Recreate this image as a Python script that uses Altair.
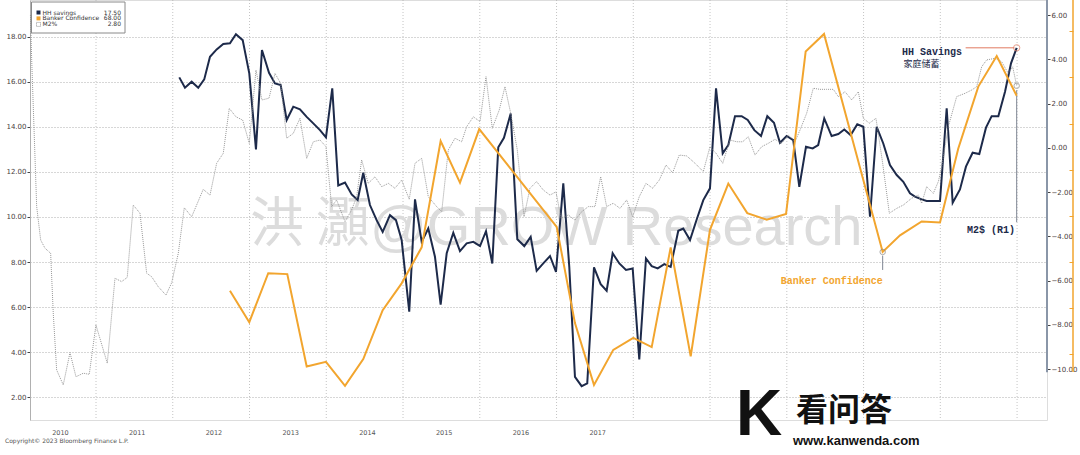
import altair as alt
import pandas as pd

# ---------------- data ----------------
hh_year = [2012.085, 2012.159, 2012.246, 2012.332, 2012.410, 2012.485, 2012.572, 2012.658, 2012.745, 2012.823,
           2012.911, 2012.997, 2013.084, 2013.162, 2013.254, 2013.332, 2013.406, 2013.484, 2013.570, 2013.657,
           2013.745, 2013.831, 2013.918, 2013.996, 2014.078, 2014.156, 2014.244, 2014.331, 2014.409, 2014.482,
           2014.569, 2014.656, 2014.735, 2014.830, 2014.908, 2014.982, 2015.081, 2015.156, 2015.243, 2015.329,
           2015.416, 2015.490, 2015.569, 2015.655, 2015.742, 2015.829, 2015.916, 2016.003, 2016.081, 2016.163,
           2016.241, 2016.315, 2016.403, 2016.489, 2016.580, 2016.663, 2016.741, 2016.827, 2016.915, 2016.993,
           2017.088, 2017.166, 2017.240, 2017.327, 2017.400, 2017.488, 2017.575, 2017.653, 2017.731, 2017.818,
           2017.905, 2017.992, 2018.078, 2018.165, 2018.240, 2018.318, 2018.404, 2018.487, 2018.586, 2018.651,
           2018.739, 2018.826, 2018.912, 2018.999, 2019.078, 2019.165, 2019.238, 2019.325, 2019.412, 2019.491,
           2019.577, 2019.664, 2019.746, 2019.833, 2019.911, 2019.998, 2020.084, 2020.163, 2020.250, 2020.337,
           2020.409, 2020.488, 2020.584, 2020.671, 2020.749, 2020.832, 2020.918, 2020.997, 2021.084, 2021.171,
           2021.257, 2021.344, 2021.432, 2021.518, 2021.605, 2021.670, 2021.757, 2021.822, 2021.909, 2021.996,
           2022.083, 2022.161, 2022.256, 2022.334, 2022.421, 2022.508, 2022.595, 2022.669, 2022.756, 2022.843,
           2022.921, 2022.995]
hh_val = [16.19, 15.73, 16.00, 15.73, 16.10, 17.10, 17.43, 17.67, 17.70, 18.10,
          17.84, 16.37, 13.00, 17.40, 16.39, 15.92, 15.85, 14.30, 14.89, 14.77,
          14.44, 14.15, 13.85, 13.53, 15.70, 11.40, 11.53, 11.00, 10.75, 11.96,
          10.53, 9.86, 9.34, 10.08, 9.86, 8.98, 5.80, 10.78, 8.90, 9.49,
          8.24, 6.12, 8.39, 9.30, 8.49, 8.83, 8.90, 8.71, 9.37, 7.94,
          13.09, 13.51, 14.59, 9.01, 8.71, 9.12, 7.61, 7.94, 8.27, 7.57,
          11.49, 7.79, 2.91, 2.50, 2.62, 7.77, 7.02, 6.73, 8.39, 7.94,
          7.65, 7.72, 3.69, 8.16, 7.82, 7.72, 7.91, 7.79, 9.39, 9.49,
          8.98, 9.89, 10.75, 11.27, 15.70, 12.82, 13.19, 14.47, 14.47, 14.30,
          13.85, 13.59, 14.47, 14.18, 13.29, 13.59, 13.41, 11.34, 13.11, 13.04,
          13.19, 14.37, 13.59, 13.68, 13.88, 13.63, 14.11, 14.00, 10.01, 14.00,
          13.26, 12.30, 11.86, 11.56, 11.05, 10.90, 10.78, 10.71, 10.71, 10.71,
          14.82, 10.63, 11.22, 12.23, 12.85, 12.79, 13.96, 14.47, 14.47, 15.55,
          16.81, 17.50]

m2_year = [2010.146, 2010.162, 2010.227, 2010.279, 2010.335, 2010.409, 2010.443, 2010.487, 2010.573, 2010.661,
           2010.739, 2010.834, 2010.912, 2010.999, 2011.147, 2011.247, 2011.334, 2011.407, 2011.485, 2011.573,
           2011.660, 2011.725, 2011.811, 2011.911, 2011.986, 2012.072, 2012.150, 2012.246, 2012.311, 2012.397,
           2012.485, 2012.572, 2012.658, 2012.736, 2012.823, 2012.911, 2012.997, 2013.084, 2013.162, 2013.254,
           2013.332, 2013.406, 2013.484, 2013.570, 2013.657, 2013.745, 2013.831, 2013.918, 2013.996, 2014.070,
           2014.135, 2014.244, 2014.331, 2014.396, 2014.461, 2014.547, 2014.635, 2014.722, 2014.808, 2014.895,
           2014.982, 2015.081, 2015.156, 2015.243, 2015.329, 2015.438, 2015.504, 2015.590, 2015.677, 2015.764,
           2015.829, 2015.916, 2016.003, 2016.081, 2016.163, 2016.254, 2016.328, 2016.403, 2016.489, 2016.576,
           2016.654, 2016.741, 2016.827, 2016.915, 2016.993, 2017.058, 2017.153, 2017.240, 2017.328, 2017.414,
           2017.501, 2017.575, 2017.653, 2017.739, 2017.827, 2017.914, 2017.992, 2018.078, 2018.165, 2018.253,
           2018.339, 2018.426, 2018.513, 2018.599, 2018.696, 2018.804, 2018.912, 2018.999, 2019.078, 2019.165,
           2019.260, 2019.347, 2019.425, 2019.498, 2019.586, 2019.673, 2019.759, 2019.846, 2019.933, 2020.020,
           2020.107, 2020.172, 2020.259, 2020.345, 2020.432, 2020.519, 2020.606, 2020.671, 2020.759, 2020.846,
           2020.932, 2020.997, 2021.075, 2021.162, 2021.249, 2021.336, 2021.432, 2021.518, 2021.627, 2021.713,
           2021.757, 2021.822, 2021.909, 2021.974, 2022.018, 2022.104, 2022.213, 2022.322, 2022.409, 2022.474,
           2022.539, 2022.604, 2022.712, 2022.799, 2022.885, 2022.943, 2022.995]
m2_val = [6.00, 3.97, -2.66, -4.17, -4.54, -4.77, -7.47, -10.04, -10.72, -9.26,
          -10.35, -10.19, -10.24, -8.01, -9.74, -5.90, -6.05, -5.86, -2.59, -2.96,
          -5.67, -5.83, -6.28, -6.66, -6.10, -4.77, -2.71, -3.12, -2.59, -1.88,
          -2.14, -0.70, -0.25, 1.78, 1.40, 1.25, 0.20, 3.51, 2.16, 2.24,
          3.36, 2.91, 0.43, 0.65, 1.33, -0.48, 0.27, 0.35, 0.05, -2.66,
          -2.36, -3.34, -2.81, -2.21, -0.55, -1.61, -1.31, -1.76, -1.61, -1.83,
          -1.46, -2.33, -0.70, -0.48, -2.21, -2.66, -2.89, -0.10, 0.43, 0.27,
          0.95, 1.40, 1.18, 3.21, 0.88, 1.71, 2.76, 1.56, -0.10, -3.12,
          -1.83, -1.53, -1.91, -2.14, -1.99, -3.19, -3.04, -3.27, -2.89, -2.66,
          -2.66, -1.31, -2.66, -2.51, -2.74, -2.36, -3.12, -2.21, -1.61, -1.83,
          -1.46, -0.78, -1.13, -0.33, -0.37, -0.70, -1.08, 0.05, -0.25, -0.70,
          0.35, 0.27, 0.27, 0.50, -0.33, 0.05, 0.20, 0.38, 0.20, 0.58,
          0.27, 0.80, 1.56, 2.69, 2.64, 2.64, 2.64, 2.31, 2.53, 2.16,
          2.53, 1.33, 1.11, 1.33, -0.70, -2.96, -2.74, -2.59, -2.28, -2.14,
          -2.51, -1.76, -2.06, -1.53, -0.86, 0.95, 2.31, 2.46, 2.61, 2.76,
          3.66, 3.97, 4.04, 3.89, 3.36, 3.66, 2.80]

bc_year = [2012.745, 2012.997, 2013.244, 2013.492, 2013.745, 2013.996, 2014.244, 2014.482, 2014.735, 2014.982,
           2015.243, 2015.490, 2015.742, 2015.993, 2017.002, 2017.240, 2017.488, 2017.739, 2018.000, 2018.240,
           2018.487, 2018.748, 2018.999, 2019.238, 2019.485, 2019.738, 2019.990, 2020.246, 2020.485, 2021.249,
           2021.475, 2021.757, 2021.996, 2022.234, 2022.495, 2022.735, 2022.995]
bc_val = [46.9, 43.5, 48.8, 48.7, 38.7, 39.2, 36.6, 39.5, 44.8, 47.7,
          51.6, 63.1, 58.6, 64.4, 53.8, 43.4, 36.7, 40.5, 41.8, 40.8,
          51.6, 39.8, 53.5, 58.5, 55.3, 54.6, 55.2, 72.8, 74.7, 51.1,
          52.9, 54.4, 54.3, 62.3, 69.0, 72.3, 68.0]

grid_years = list(range(2011, 2024))
label_years = list(range(2010, 2018))
left_ticks = [2, 4, 6, 8, 10, 12, 14, 16, 18]
right_ticks = [-10, -8, -6, -4, -2, 0, 2, 4, 6]
bc_ticks = [40, 45, 50, 55, 60, 65, 70, 75]

legend_names = ["HH savings", "Banker Confidence", "M2%"]
legend_values = ["17.50", "68.00", "2.80"]

# ---------------- styles ----------------
W, H = 1017, 420
NAVY = "#1d2a4a"
ORANGE = "#f2a52e"
GREY = "#8c8c8c"
SALMON = "#e07a60"
FONT = "DejaVu Sans"
MONO = "Liberation Mono"
CJK = "Noto Sans CJK SC"

M2_TOP, M2_BOT = 6.678, -12.305
BC_TOP, BC_BOT = 78.37, 32.91

xs = alt.Scale(domain=[2010.14, 2023.39], nice=False, zero=False)
x_axis = alt.Axis(values=[y + 0.53 for y in label_years], labelExpr="'' + floor(datum.value)",
                  grid=False, ticks=False, domain=False, labelFontSize=6.5, labelColor="#555555",
                  labelPadding=9, title=None, labelFont=FONT)
X = alt.X("year:Q", scale=xs, axis=x_axis)

# vertical dotted grid lines
grid_df = pd.DataFrame({"year": grid_years})
vgrid = alt.Chart(grid_df).mark_rule(color="#b5b5b5", strokeDash=[1, 2], strokeWidth=0.8).encode(x=X)

# watermark
wm1 = alt.Chart(pd.DataFrame({"t": ["洪 灝"]})).mark_text(
    font=CJK, fontSize=54, color="#dcdcdc", align="right", baseline="middle"
).encode(x=alt.value(340), y=alt.value(226), text="t:N")
wm2 = alt.Chart(pd.DataFrame({"t": ["@GROW Research"]})).mark_text(
    font="Liberation Sans", fontSize=56, color="#dcdcdc", align="left", baseline="middle"
).encode(x=alt.value(340), y=alt.value(228), text="t:N")

# ---- HH savings (left axis) ----
hh_df = pd.DataFrame({"year": hh_year, "val": hh_val})
sc_hh = alt.Scale(domain=[1.0, 19.62], nice=False, zero=False)
ax_hh = alt.Axis(orient="left", values=left_ticks, format=".2f", grid=True, gridDash=[1, 2],
                 gridColor="#9a9a9a", gridWidth=0.8, tickSize=3, tickColor="#444444",
                 domainColor="#b0b0b0", labelFontSize=7, labelColor="#4a4040", labelFont=FONT,
                 labelPadding=1, title=None)
Y_hh = alt.Y("val:Q", scale=sc_hh, axis=ax_hh)
hh_line = alt.Chart(hh_df).mark_line(color=NAVY, strokeWidth=2).encode(x=X, y=Y_hh)
hh_last = alt.Chart(hh_df.tail(1)).mark_point(shape="circle", size=40, color=SALMON, filled=False,
                                                strokeWidth=1).encode(x=X, y=Y_hh)
hh_lead_df = pd.DataFrame({"year": [2022.33], "year2": [hh_year[-1] - 0.03], "val": [hh_val[-1]]})
hh_lead = alt.Chart(hh_lead_df).mark_rule(color=SALMON, strokeWidth=1).encode(x=X, x2="year2:Q", y=Y_hh)
hh_t1 = alt.Chart(pd.DataFrame({"year": [2021.50], "val": [17.33], "t": ["HH Savings"]})).mark_text(
    font=MONO, fontWeight="bold", fontSize=10, color=NAVY, align="left", baseline="middle"
).encode(x=X, y=Y_hh, text="t:N")
hh_t2 = alt.Chart(pd.DataFrame({"year": [2021.52], "val": [16.80], "t": ["家庭储蓄"]})).mark_text(
    font=CJK, fontSize=9, color=NAVY, align="left", baseline="middle"
).encode(x=X, y=Y_hh, text="t:N")
hh_layer = alt.layer(hh_line, hh_lead, hh_last, hh_t1, hh_t2)

# ---- M2% (right axis R1) ----
m2_df = pd.DataFrame({"year": m2_year, "val": m2_val})
sc_m2 = alt.Scale(domain=[M2_BOT, M2_TOP], nice=False, zero=False)
ax_m2 = alt.Axis(orient="right", values=right_ticks, format=".2f", grid=False, tickSize=3,
                 tickColor="#444444", domain=False, labelFontSize=7,
                 labelColor="#4a4040", labelFont=FONT, labelPadding=1, title=None)
Y_m2 = alt.Y("val:Q", scale=sc_m2, axis=ax_m2)
m2_line = alt.Chart(m2_df).mark_line(color=GREY, strokeWidth=0.9, strokeDash=[1, 1]).encode(x=X, y=Y_m2)
# right axis line (ends a little below the -10 tick, as in the source)
m2_axisline = alt.Chart(pd.DataFrame({"val": [-10.15], "val2": [M2_TOP]})).mark_rule(
    color="#8a96a8", strokeWidth=2).encode(x=alt.value(W), y=Y_m2, y2="val2:Q")
m2_lead_df = pd.DataFrame({"year": [m2_year[-1]], "val": [m2_val[-1] - 0.2], "val2": [-3.36]})
m2_lead = alt.Chart(m2_lead_df).mark_rule(color="#7f8794", strokeWidth=1).encode(x=X, y=Y_m2, y2="val2:Q")
m2_last = alt.Chart(m2_df.tail(1)).mark_point(shape="circle", size=30, color="#8a8a8a", filled=False,
                                                strokeWidth=1).encode(x=X, y=Y_m2)
m2_t = alt.Chart(pd.DataFrame({"year": [2022.973], "val": [-3.72], "t": ["M2$ (R1)"]})).mark_text(
    font=MONO, fontWeight="bold", fontSize=10, color=NAVY, align="right", baseline="middle"
).encode(x=X, y=Y_m2, text="t:N")
m2_layer = alt.layer(m2_line, m2_axisline, m2_lead, m2_last, m2_t)

# ---- Banker Confidence (third axis) ----
bc_df = pd.DataFrame({"year": bc_year, "val": bc_val})
sc_bc = alt.Scale(domain=[BC_BOT, BC_TOP], nice=False, zero=False)
ax_bc = alt.Axis(orient="left", offset=-1043, values=bc_ticks, labels=False, grid=False, tickSize=4,
                 tickColor=ORANGE, domain=False, title=None)
Y_bc = alt.Y("val:Q", scale=sc_bc, axis=ax_bc)
bc_line = alt.Chart(bc_df).mark_line(color=ORANGE, strokeWidth=2).encode(x=X, y=Y_bc)
bc_axisline = alt.Chart(pd.DataFrame({"val": [38.1], "val2": [BC_TOP]})).mark_rule(
    color=ORANGE, strokeWidth=1.5).encode(x=alt.value(W + 26), y=Y_bc, y2="val2:Q")
bc_min_df = bc_df.iloc[[29]]
bc_pt = alt.Chart(bc_min_df).mark_point(shape="circle", size=30, color="#8a8a8a", filled=False,
                                         strokeWidth=1).encode(x=X, y=Y_bc)
bc_lead_df = pd.DataFrame({"year": [bc_year[29]], "val": [bc_val[29] - 0.4], "val2": [49.15]})
bc_lead = alt.Chart(bc_lead_df).mark_rule(color="#7f8794", strokeWidth=1).encode(x=X, y=Y_bc, y2="val2:Q")
bc_t = alt.Chart(pd.DataFrame({"year": [bc_year[29]], "val": [47.95], "t": ["Banker Confidence"]})).mark_text(
    font=MONO, fontWeight="bold", fontSize=10, color=ORANGE, align="right", baseline="middle"
).encode(x=X, y=Y_bc, text="t:N")
bc_layer = alt.layer(bc_line, bc_axisline, bc_lead, bc_pt, bc_t)

# ---- legend box (top-left) ----
leg_box = alt.Chart(pd.DataFrame({"a": [0]})).mark_rect(fill="white", stroke="#8a8a8a", strokeWidth=1).encode(
    x=alt.value(1.5), x2=alt.value(95), y=alt.value(2), y2=alt.value(33))
rows_y = [12.5, 18.4, 24.4]
sw_hh = alt.Chart(pd.DataFrame({"a": [0]})).mark_rect(fill=NAVY).encode(
    x=alt.value(6.5), x2=alt.value(10.5), y=alt.value(rows_y[0] - 2), y2=alt.value(rows_y[0] + 2))
sw_bc = alt.Chart(pd.DataFrame({"a": [0]})).mark_rect(fill=ORANGE).encode(
    x=alt.value(6.5), x2=alt.value(10.5), y=alt.value(rows_y[1] - 2), y2=alt.value(rows_y[1] + 2))
sw_m2 = alt.Chart(pd.DataFrame({"a": [0]})).mark_rect(fill="white", stroke="#777777", strokeDash=[1, 1],
                                                      strokeWidth=0.8).encode(
    x=alt.value(6.5), x2=alt.value(10.5), y=alt.value(rows_y[2] - 2), y2=alt.value(rows_y[2] + 2))
leg_text = []
for i in range(3):
    leg_text.append(alt.Chart(pd.DataFrame({"t": [legend_names[i]]})).mark_text(
        font=FONT, fontSize=6, color="#333333", align="left", baseline="middle"
    ).encode(x=alt.value(12.5), y=alt.value(rows_y[i]), text="t:N"))
    leg_text.append(alt.Chart(pd.DataFrame({"t": [legend_values[i]]})).mark_text(
        font=FONT, fontSize=6, color="#333333", align="right", baseline="middle"
    ).encode(x=alt.value(91), y=alt.value(rows_y[i]), text="t:N"))

copyright_t = alt.Chart(pd.DataFrame({"t": ["Copyright\u00a9 2023 Bloomberg Finance L.P."]})).mark_text(
    font=FONT, fontSize=6, color="#555555", align="left", baseline="middle"
).encode(x=alt.value(-25), y=alt.value(441), text="t:N")

# site watermark bottom-right
k_logo = alt.Chart(pd.DataFrame({"t": ["K"]})).mark_text(
    font="Liberation Sans", fontWeight="bold", fontSize=64, color="#111111", align="center", baseline="middle"
).encode(x=alt.value(729), y=alt.value(416), text="t:N")
kw1 = alt.Chart(pd.DataFrame({"t": ["看问答"]})).mark_text(
    font=CJK, fontWeight="bold", fontSize=32, color="#111111", align="left", baseline="middle"
).encode(x=alt.value(766), y=alt.value(411), text="t:N")
kw2 = alt.Chart(pd.DataFrame({"t": ["www.kanwenda.com"]})).mark_text(
    font="Liberation Sans", fontWeight="bold", fontSize=13, color="#111111", align="left", baseline="middle"
).encode(x=alt.value(763), y=alt.value(441), text="t:N")

chart = alt.layer(
    vgrid, wm1, wm2, hh_layer, m2_layer, bc_layer,
    leg_box, sw_hh, sw_bc, sw_m2, *leg_text, copyright_t, k_logo, kw1, kw2
).resolve_scale(y="independent").properties(
    width=W, height=H,
    autosize=alt.AutoSizeParams(type="none"),
    padding={"left": 30, "top": 0, "right": 33, "bottom": 35},
).configure_view(stroke=None).configure(background="white")

chart.save("out.html", embed_options={"renderer": "svg", "actions": False})
